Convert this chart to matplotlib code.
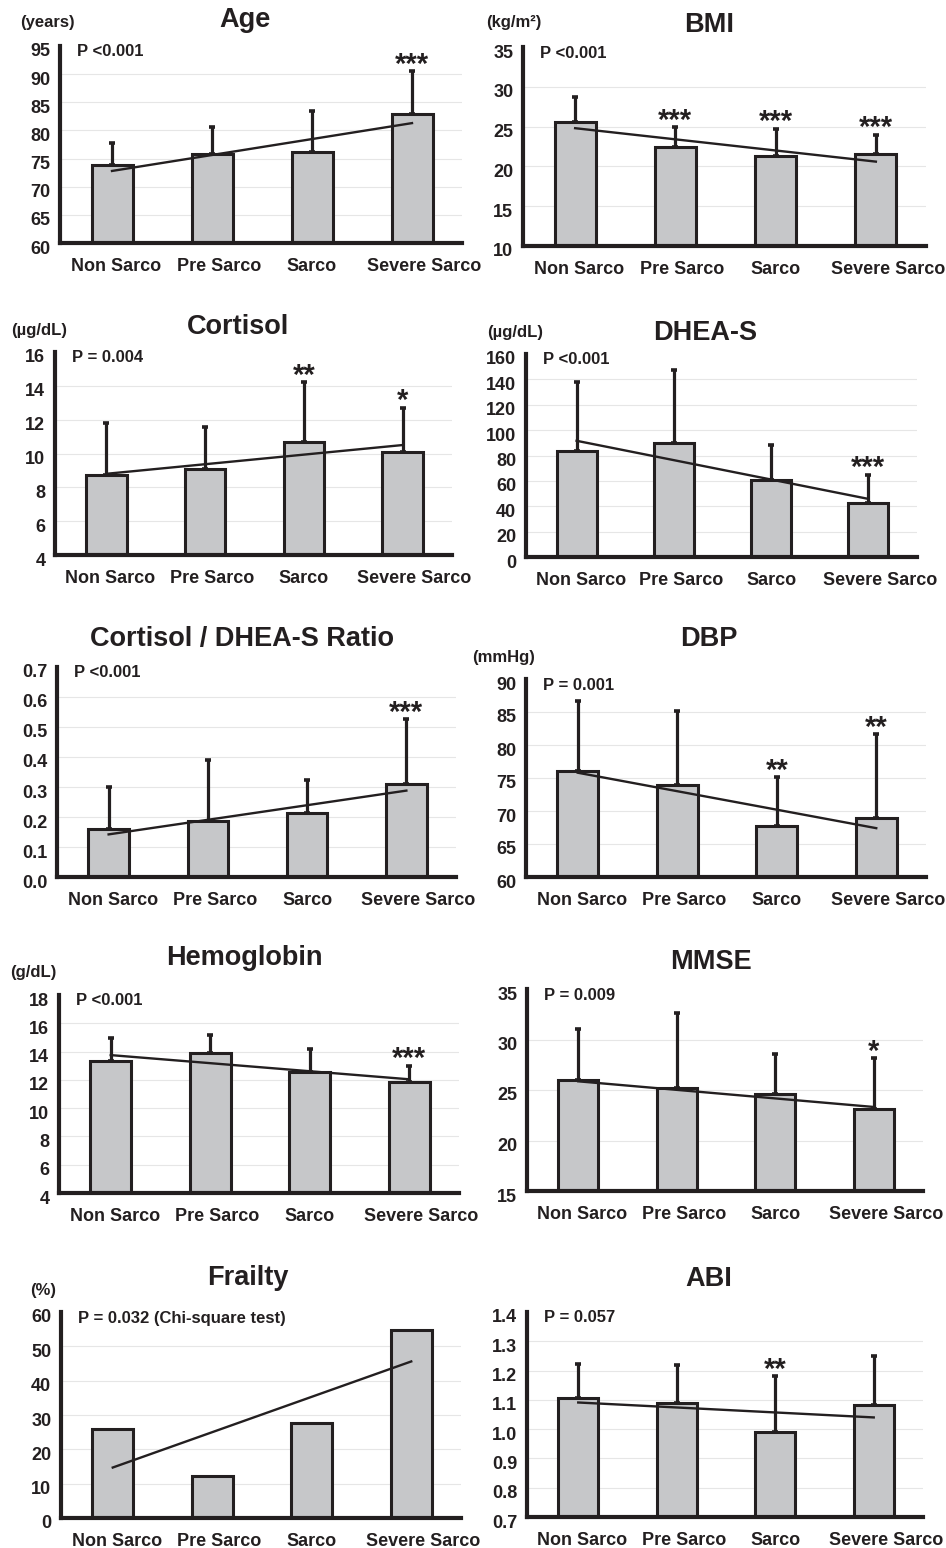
import numpy as np
import matplotlib
matplotlib.use('Agg')
import matplotlib.pyplot as plt
from matplotlib.transforms import ScaledTranslation

plt.rcParams['font.family'] = ['Liberation Sans', 'DejaVu Sans']
plt.rcParams['font.weight'] = 'bold'

W, H = 946, 1548
INK = '#231f20'
FILL = '#c6c7c9'

groups = ['Non Sarco', 'Pre Sarco', 'Sarco', 'Severe Sarco']

# mean and SD per group, trend line ends (Non -> Severe), significance marks
age_mean = [73.8, 75.8, 76.1, 83.0]
age_sd = [3.9, 4.8, 7.3, 7.5]
age_trend = [72.8, 81.3]
age_star = ['', '', '', '***']

bmi_mean = [25.6, 22.5, 21.3, 21.5]
bmi_sd = [3.1, 2.4, 3.4, 2.5]
bmi_trend = [24.8, 20.6]
bmi_star = ['', '***', '***', '***']

cort_mean = [8.75, 9.1, 10.7, 10.1]
cort_sd = [3.05, 2.45, 3.5, 2.6]
cort_trend = [8.8, 10.5]
cort_star = ['', '', '**', '*']

dhea_mean = [83.7, 89.8, 60.5, 42.4]
dhea_sd = [53.9, 57.2, 27.4, 22.3]
dhea_trend = [91.6, 45.8]
dhea_star = ['', '', '', '***']

ratio_mean = [0.159, 0.188, 0.212, 0.309]
ratio_sd = [0.142, 0.202, 0.111, 0.217]
ratio_trend = [0.142, 0.288]
ratio_star = ['', '', '', '***']

dbp_mean = [76.1, 74.0, 67.8, 68.9]
dbp_sd = [10.6, 11.2, 7.3, 12.7]
dbp_trend = [75.8, 67.4]
dbp_star = ['', '', '**', '**']

hb_mean = [13.33, 13.87, 12.53, 11.88]
hb_sd = [1.65, 1.3, 1.64, 1.11]
hb_trend = [13.75, 12.04]
hb_star = ['', '', '', '***']

mmse_mean = [25.96, 25.24, 24.58, 23.1]
mmse_sd = [5.1, 7.36, 4.02, 5.06]
mmse_trend = [25.86, 23.32]
mmse_star = ['', '', '', '*']

frail_pct = [25.8, 12.3, 27.7, 54.9]
frail_trend = [14.7, 45.6]

abi_mean = [1.108, 1.088, 0.989, 1.082]
abi_sd = [0.113, 0.131, 0.192, 0.168]
abi_trend = [1.091, 1.040]
abi_star = ['', '', '**', '']

fig = plt.figure(figsize=(W / 100, H / 100), dpi=100)


def px_text(x, y, s, size, ha='center'):
    fig.text(x / W, 1 - y / H, s, fontsize=size, ha=ha, va='center', color=INK)


def panel(box, ticks, labels, mean, sd, trend, stars, ptext):
    l, t, r, b = box
    ax = fig.add_axes([l / W, 1 - b / H, (r - l) / W, (b - t) / H])
    x = np.arange(len(groups))
    ax.set_xlim(-0.52, 3.5)
    ax.set_ylim(ticks[0], ticks[-1])
    for v in ticks[1:-1]:
        ax.axhline(v, color='#e6e6e6', lw=0.8, zorder=0)
    ax.bar(x, np.array(mean) - ticks[0], bottom=ticks[0], width=0.41,
           color=FILL, edgecolor=INK, linewidth=2.2, zorder=2)
    if sd is not None:
        ax.errorbar(x, mean, yerr=[np.zeros(4), sd], fmt='none', ecolor=INK,
                    elinewidth=2.3, capsize=2.5, capthick=2.6, zorder=1)
        for i, s in enumerate(stars):
            if s:
                ax.annotate(s, (x[i], mean[i] + sd[i]), xytext=(0, -1),
                            textcoords='offset points', ha='center', va='baseline',
                            fontsize=21, color=INK)
    ax.plot([x[0], x[-1]], trend, color=INK, lw=1.7, zorder=3)
    for sp in ['top', 'right']:
        ax.spines[sp].set_visible(False)
    for sp in ['left', 'bottom']:
        ax.spines[sp].set_linewidth(3)
        ax.spines[sp].set_color(INK)
    ax.set_yticks(ticks)
    ax.set_yticklabels(labels, fontsize=13, color=INK)
    ax.set_xticks(x)
    ax.set_xticklabels(groups, fontsize=13, color=INK)
    ax.tick_params(length=0)
    ax.tick_params(axis='y', pad=7)
    ax.tick_params(axis='x', pad=11)
    off = ScaledTranslation(0, -4 / 100, fig.dpi_scale_trans)
    for lab in ax.get_yticklabels():
        lab.set_transform(lab.get_transform() + off)
    shifts = [4, 7, 0, 12]
    for lab, dx in zip(ax.get_xticklabels(), shifts):
        lab.set_transform(lab.get_transform() + ScaledTranslation(dx / 100, 0, fig.dpi_scale_trans))
    ax.text(17 / (r - l), 1 - 6 / (b - t), ptext, transform=ax.transAxes,
            fontsize=12, ha='left', va='center', color=INK)
    ax.patch.set_alpha(0)
    return ax


def ints(lo, hi, step):
    return list(range(lo, hi + 1, step))


def decs(vals):
    return ['%.1f' % v for v in vals]


t = ints(60, 95, 5)
panel((60, 46, 462, 243), t, [str(v) for v in t], age_mean, age_sd, age_trend, age_star, 'P <0.001')
px_text(245, 20, 'Age', 19.5)
px_text(47, 23, '(years)', 12)

t = ints(10, 35, 5)
panel((523, 47, 926, 246), t, [str(v) for v in t], bmi_mean, bmi_sd, bmi_trend, bmi_star, 'P <0.001')
px_text(709, 25, 'BMI', 19.5)
px_text(514, 23, '(kg/m²)', 12)

t = ints(4, 16, 2)
panel((55, 352, 452, 555), t, [str(v) for v in t], cort_mean, cort_sd, cort_trend, cort_star, 'P = 0.004')
px_text(238, 327, 'Cortisol', 19.5)
px_text(39, 331, '(µg/dL)', 12)

t = ints(0, 160, 20)
panel((526, 354, 917, 557), t, [str(v) for v in t], dhea_mean, dhea_sd, dhea_trend, dhea_star, 'P <0.001')
px_text(705, 333, 'DHEA-S', 19.5)
px_text(515, 332, '(µg/dL)', 12)

t = [0.0, 0.1, 0.2, 0.3, 0.4, 0.5, 0.6, 0.7]
panel((57, 667, 456, 877), t, decs(t), ratio_mean, ratio_sd, ratio_trend, ratio_star, 'P <0.001')
px_text(242, 639, 'Cortisol / DHEA-S Ratio', 19.5)

t = ints(60, 90, 5)
panel((526, 679, 926, 877), t, [str(v) for v in t], dbp_mean, dbp_sd, dbp_trend, dbp_star, 'P = 0.001')
px_text(709, 639, 'DBP', 19.5)
px_text(504, 658, '(mmHg)', 12)

t = ints(4, 18, 2)
panel((59, 995, 459, 1193), t, [str(v) for v in t], hb_mean, hb_sd, hb_trend, hb_star, 'P <0.001')
px_text(244, 958, 'Hemoglobin', 19.5)
px_text(33, 973, '(g/dL)', 12)

t = ints(15, 35, 5)
panel((527, 989, 923, 1191), t, [str(v) for v in t], mmse_mean, mmse_sd, mmse_trend, mmse_star, 'P = 0.009')
px_text(711, 962, 'MMSE', 19.5)

t = ints(0, 60, 10)
panel((61, 1312, 461, 1518), t, [str(v) for v in t], frail_pct, None, frail_trend, None,
      'P = 0.032 (Chi-square test)')
px_text(248, 1278, 'Frailty', 19.5)
px_text(43, 1291, '(%)', 12)

t = [0.7, 0.8, 0.9, 1.0, 1.1, 1.2, 1.3, 1.4]
panel((527, 1312, 923, 1517), t, decs(t), abi_mean, abi_sd, abi_trend, abi_star, 'P = 0.057')
px_text(709, 1279, 'ABI', 19.5)

fig.savefig('out.png', dpi=100, facecolor='white')
